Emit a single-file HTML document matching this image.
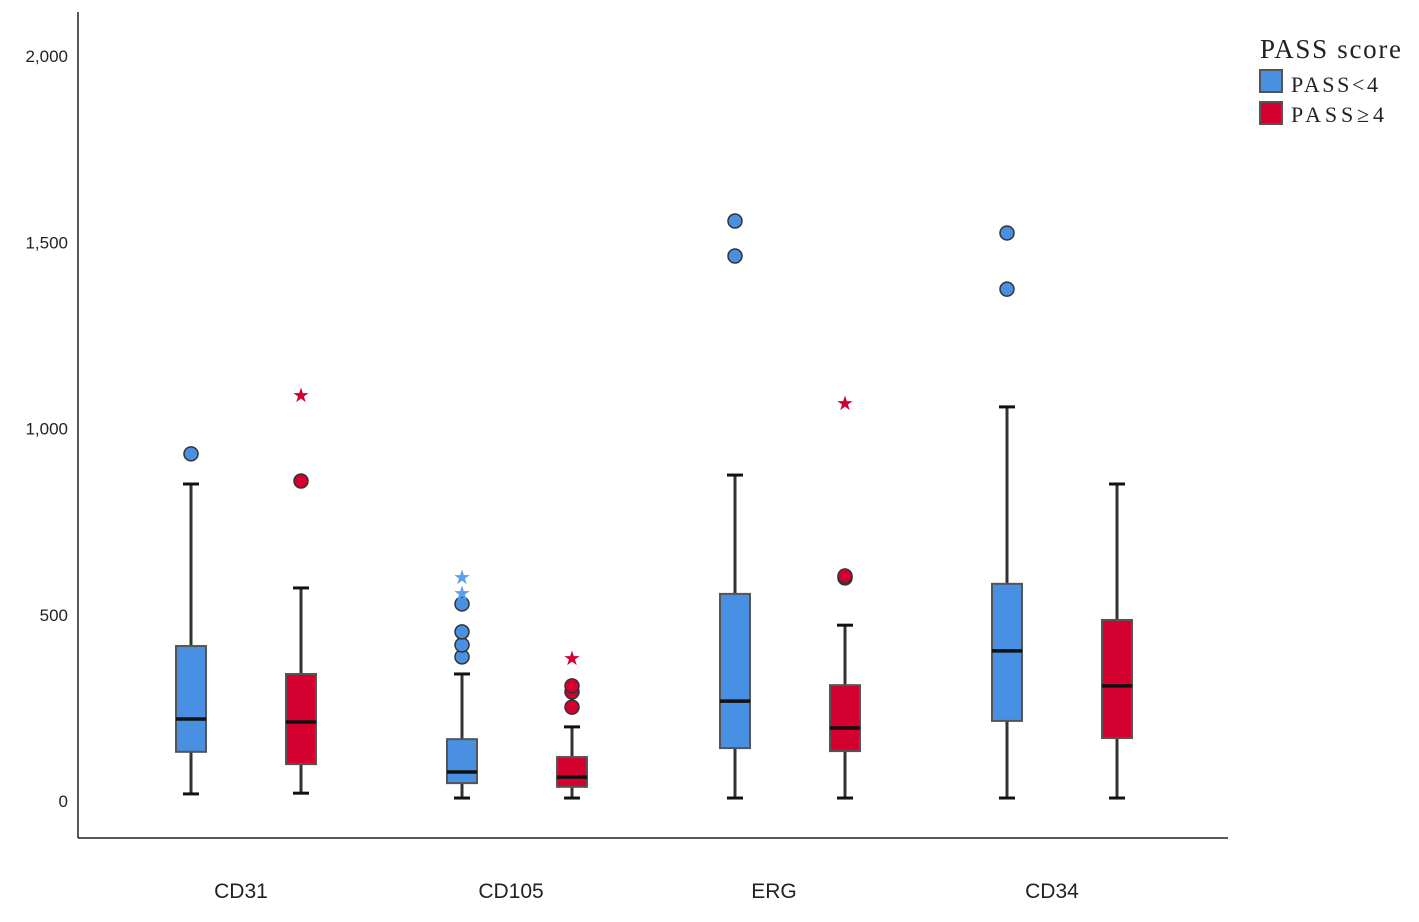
<!DOCTYPE html>
<html><head><meta charset="utf-8"><style>
body{margin:0;background:#fff}
svg{display:block;font-family:"Liberation Sans",sans-serif}
</style></head><body>
<svg id="c" width="1419" height="922">
<line x1="78" y1="12" x2="78" y2="838" stroke="#222" stroke-width="1.5"/>
<line x1="78" y1="838" x2="1228" y2="838" stroke="#222" stroke-width="1.5"/>
<g id="legend">
<text x="1260" y="58" font-family="Liberation Serif,serif" font-size="27" fill="#222" textLength="141">PASS score</text>
<rect x="1260" y="70" width="22" height="22" fill="#4a90e2" stroke="#555" stroke-width="2"/>
<text x="1291" y="92" font-family="Liberation Serif,serif" font-size="22" fill="#222" textLength="87">PASS&lt;4</text>
<rect x="1260" y="102" width="22" height="22" fill="#d40030" stroke="#555" stroke-width="2"/>
<text x="1291" y="122" font-family="Liberation Serif,serif" font-size="22" fill="#222" textLength="93">PASS≥4</text>
</g>
</svg>
<script>
const categories=["CD31","CD105","ERG","CD34"];
const groups=["PASS<4","PASS≥4"];
const yTicks=[0,500,1000,1500,2000];
const yTickLabels=["0","500","1,000","1,500","2,000"];
// [low whisker, q1, median, q3, high whisker] per category, per group
const statsLow=[[19,132,220,416,851],[8,48,78,166,341],[8,142,268,556,875],[8,215,403,583,1058]];
const statsHigh=[[21,99,212,341,572],[8,38,64,118,199],[8,134,196,311,472],[8,169,309,486,851]];
const outliersLow=[[932],[387,419,454,529],[1463,1557],[1374,1525]];
const outliersHigh=[[859],[252,293,309],[599,604],[]];
const extremesLow=[[],[561,604],[],[]];
const extremesHigh=[[1093],[387],[1071],[]];
const svg=document.getElementById('c');
const NS='http://www.w3.org/2000/svg';
function y(v){return 801-v*0.3725;}
const catX=[246,517,790,1062];
const labelX=[241,511,774,1052];
function x(ci,gi){return catX[ci]+(gi===0?-55:55);}
function el(t,a){const e=document.createElementNS(NS,t);for(const k in a)e.setAttribute(k,a[k]);svg.appendChild(e);return e;}
yTicks.forEach((t,i)=>{const e=el('text',{x:68,y:y(t)+6,'text-anchor':'end','font-size':17,fill:'#222'});e.textContent=yTickLabels[i];

});
categories.forEach((c,i)=>{const e=el('text',{x:labelX[i],y:898,'text-anchor':'middle','font-size':21,fill:'#222'});e.textContent=c;

});
const colors=['#4a90e2','#d40030'];
[statsLow,statsHigh].forEach((S,gi)=>{
 S.forEach((s,ci)=>{
  const cx=x(ci,gi),w=30;
  const wl=el('line',{x1:cx,x2:cx,y1:y(s[0]),y2:y(s[4]),stroke:'#333','stroke-width':3});
  
  
  [s[0],s[4]].forEach(v=>{const cap=el('line',{x1:cx-8,x2:cx+8,y1:y(v),y2:y(v),stroke:'#111','stroke-width':3});
  
  });
  const b=el('rect',{x:cx-w/2,y:y(s[3]),width:w,height:y(s[1])-y(s[3]),fill:colors[gi],stroke:'#555','stroke-width':2});
  
  
  const m=el('line',{x1:cx-w/2,x2:cx+w/2,y1:y(s[2]),y2:y(s[2]),stroke:'#111','stroke-width':3.5});
  
  
 });
});
[outliersLow,outliersHigh].forEach((O,gi)=>O.forEach((arr,ci)=>arr.forEach(v=>{
 const o=el('circle',{cx:x(ci,gi),cy:y(v),r:7,fill:colors[gi],stroke:'#333','stroke-width':1.5});
 
 
})));
[extremesLow,extremesHigh].forEach((O,gi)=>O.forEach((arr,ci)=>arr.forEach(v=>{
 const t=el('text',{x:x(ci,gi),y:y(v)+8,'text-anchor':'middle','font-size':20,fill:gi?'#d40030':'#5aa0ea'});
 t.textContent='★';
 
 
})));
</script>
</body></html>
